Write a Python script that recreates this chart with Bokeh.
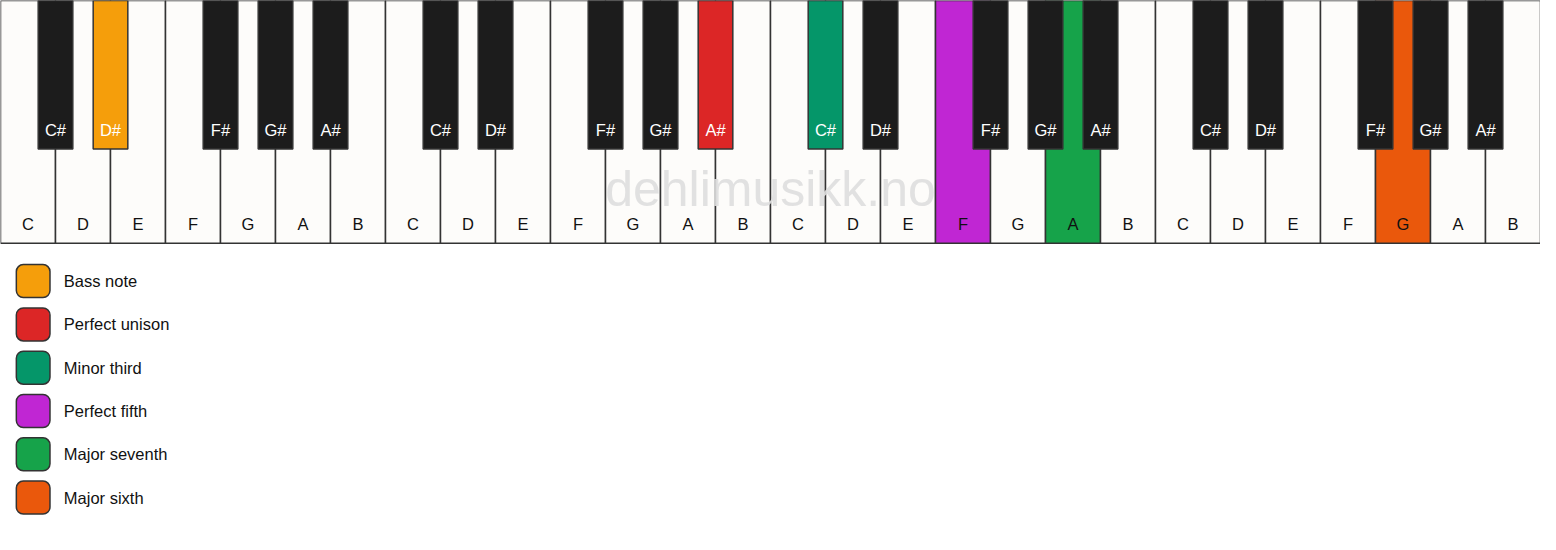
from bokeh.core.properties import value
from bokeh.embed import file_html
from bokeh.models import ColumnDataSource, Range1d
from bokeh.plotting import figure
from bokeh.resources import INLINE

# keyboard layout
white_names = ["C", "D", "E", "F", "G", "A", "B"]
black_names = ["C#", "D#", "F#", "G#", "A#"]
black_after = [0, 1, 3, 4, 5]  # white key index the black key sits after
octaves = 4

# highlighted keys
hl_octave = [0, 1, 2, 2, 2, 3]
hl_note = ["D#", "A#", "C#", "F", "A", "G"]
hl_color = ["#F59E0B", "#DC2626", "#059669", "#C026D3", "#16A34A", "#EA580C"]
legend_labels = ["Bass note", "Perfect unison", "Minor third", "Perfect fifth",
                 "Major seventh", "Major sixth"]

W_TOTAL, H_TOTAL = 1556, 550
KEY_H, BLACK_H, BLACK_W = 250, 153, 35
key_w = W_TOTAL / (7 * octaves)
FONT = value("Liberation Sans")

hl = {(o, n): c for o, n, c in zip(hl_octave, hl_note, hl_color)}

# white keys
wl, wr, wfill, wname, wx = [], [], [], [], []
for o in range(octaves):
    for i, n in enumerate(white_names):
        k = o * 7 + i
        wl.append(k * key_w)
        wr.append((k + 1) * key_w)
        wfill.append(hl.get((o, n), "#FDFCFA"))
        wname.append(n)
        wx.append((k + 0.5) * key_w)

# black keys
bl, br, bfill, bname, bx = [], [], [], [], []
for o in range(octaves):
    for j, n in enumerate(black_names):
        c = (o * 7 + black_after[j] + 1) * key_w
        bl.append(c - BLACK_W / 2)
        br.append(c + BLACK_W / 2)
        bfill.append(hl.get((o, n), "#1C1C1C"))
        bname.append(n)
        bx.append(c)

p = figure(width=1540, height=534, x_range=Range1d(0, W_TOTAL), y_range=Range1d(H_TOTAL, 0),
           output_backend="svg", toolbar_location=None, min_border=0)
p.axis.visible = False
p.grid.visible = False
p.outline_line_color = None
p.background_fill_color = "white"

wsrc = ColumnDataSource(dict(left=wl, right=wr, fill=wfill, name=wname, x=wx,
                             top=[0] * len(wl), bottom=[KEY_H] * len(wl),
                             ly=[KEY_H - 20] * len(wl)))
p.quad(left="left", right="right", top="top", bottom="bottom", fill_color="fill",
       line_color="#333333", line_width=1.5, source=wsrc)
p.text(x="x", y="ly", text="name", text_color="#111111", text_align="center",
       text_baseline="middle", text_font=FONT, text_font_size="16.5px", source=wsrc)

# watermark
p.text(x=[W_TOTAL / 2], y=[194], text=["dehlimusikk.no"], text_color="#dedede",
       text_alpha=0.9, text_align="center", text_baseline="middle",
       text_font=FONT, text_font_size="50px")

bsrc = ColumnDataSource(dict(left=bl, right=br, fill=bfill, name=bname, x=bx,
                             top=[0] * len(bl), bottom=[BLACK_H] * len(bl),
                             ly=[BLACK_H - 20] * len(bl)))
p.quad(left="left", right="right", top="top", bottom="bottom", fill_color="fill",
       line_color="#333333", line_width=1.5, source=bsrc)
p.text(x="x", y="ly", text="name", text_color="white", text_align="center",
       text_baseline="middle", text_font=FONT, text_font_size="16.5px", source=bsrc)

# legend
ly = [289 + i * 44.6 for i in range(len(legend_labels))]
lsrc = ColumnDataSource(dict(y=ly, top=[v - 17 for v in ly], bottom=[v + 17 for v in ly],
                             color=hl_color, label=legend_labels))
p.quad(left=16, right=50, top="top", bottom="bottom", fill_color="color",
       line_color="#333333", line_width=1.5, border_radius=7, source=lsrc)
p.text(x=64, y="y", text="label", text_color="#111111", text_baseline="middle",
       text_font=FONT, text_font_size="16.5px", source=lsrc)

open("out.html", "w").write(file_html(p, INLINE))
